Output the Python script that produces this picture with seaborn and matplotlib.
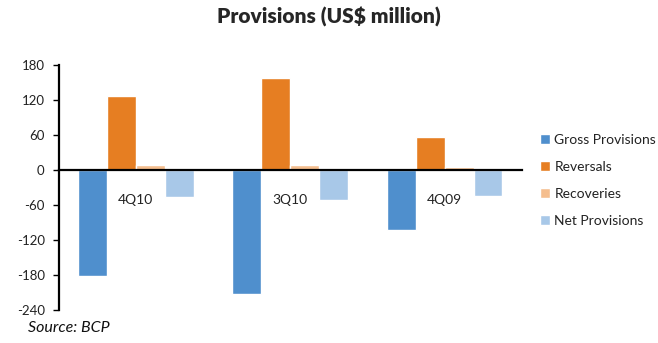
import pandas as pd
import numpy as np
import matplotlib
matplotlib.use("Agg")
import matplotlib.pyplot as plt
import seaborn as sns

# %%
quarters = ["4Q10", "3Q10", "4Q09"]
series = ["Gross Provisions", "Reversals", "Recoveries", "Net Provisions"]
gross = [-181, -213, -103]
reversals = [126, 157, 56]
recoveries = [8, 8, 6]
net_prov = [-46, -52, -45]
colors = ["#4F8FCD", "#E67E22", "#F5BE8E", "#A8C8E8"]
yticks = [-240, -180, -120, -60, 0, 60, 120, 180]

# %%
df = pd.DataFrame({
    "quarter": quarters * 4,
    "series": [s for s in series for _ in quarters],
    "value": gross + reversals + recoveries + net_prov,
})

# %%
sns.set_style("white")
plt.rcParams["font.family"] = ["Lato", "DejaVu Sans"]

fig = plt.figure(figsize=(6.58, 3.43), dpi=100)
ax = fig.add_axes([0.089, 0.0962, 0.704, 0.7143])

sns.barplot(data=df, x="quarter", y="value", hue="series", hue_order=series,
            palette=colors, width=0.75, gap=0, saturation=1, ax=ax, legend=True)

ax.set_xlim(-0.5, 2.5)
ax.set_ylim(-240, 180)
ax.set_yticks(yticks)
ax.set_yticklabels([str(t) for t in yticks], fontsize=9.5, color="#222222")
ax.set_xlabel("")
ax.set_ylabel("")

# category axis on the zero line
ax.spines["bottom"].set_position(("data", 0))
ax.spines["bottom"].set_linewidth(1.6)
ax.spines["bottom"].set_color("black")
ax.spines["left"].set_linewidth(1.6)
ax.spines["left"].set_color("black")
ax.spines["top"].set_visible(False)
ax.spines["right"].set_visible(False)

ax.set_xticks([-0.5, 0.5, 1.5, 2.5])
ax.set_xticklabels([])
ax.set_xticks([0, 1, 2], minor=True)
ax.set_xticklabels(quarters, minor=True, fontsize=10, color="#222222")
ax.tick_params(axis="x", which="major", direction="out", length=3, width=1, color="black")
ax.tick_params(axis="x", which="minor", length=0, pad=17)
ax.tick_params(axis="y", direction="out", length=4, width=1, color="black", left=True, pad=6)

leg = ax.legend(loc="upper left", bbox_to_anchor=(0.812, 0.625), bbox_transform=fig.transFigure,
                frameon=False, fontsize=10, handlelength=0.75, handleheight=0.75,
                handletextpad=0.3, labelspacing=1.08, borderaxespad=0)
for t in leg.get_texts():
    t.set_color("#222222")

fig.text(0.5, 0.95, "Provisions (US$ million)", ha="center", va="center",
         fontsize=15, fontweight="heavy")
fig.text(0.042, 0.045, "Source: BCP", ha="left", va="center", fontsize=11.5,
         style="italic", color="#111111")

fig.savefig("out.png", dpi=100)
